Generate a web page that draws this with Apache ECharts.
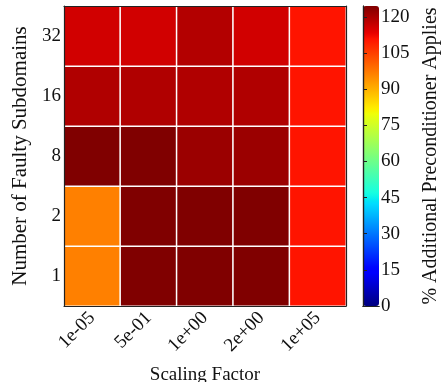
<!DOCTYPE html>
<html>
<head>
<meta charset="utf-8">
<script src="https://cdn.jsdelivr.net/npm/echarts@6/dist/echarts.min.js"></script>
<style>
html,body{margin:0;padding:0;background:#fff;}
#chart{width:442px;height:382px;}
</style>
</head>
<body>
<div id="chart"></div>
<script>
// ---- data ----
const xLabels = ['1e-05', '5e-01', '1e+00', '2e+00', '1e+05'];
const yLabels = ['1', '2', '8', '16', '32'];
const row1  = [96.5, 124.5, 124.5, 124.5, 110.7];
const row2  = [96.5, 124.5, 124.5, 124.5, 110.7];
const row8  = [124.5, 124.5, 121.5, 121.5, 110.7];
const row16 = [119.3, 119.3, 119.3, 119.3, 110.7];
const row32 = [115.8, 115.8, 119.0, 115.8, 110.7];
const colorMin = 0;
const colorMax = 124.5;
const cbTicks = [0, 15, 30, 45, 60, 75, 90, 105, 120];

const rows = [row1, row2, row8, row16, row32];
const heatData = [];
rows.forEach((r, yi) => r.forEach((v, xi) => heatData.push([xi, yi, v])));

// jet colormap
function interp(pts, t) {
  for (let i = 0; i < pts.length - 1; i++) {
    const [t0, v0] = pts[i], [t1, v1] = pts[i + 1];
    if (t >= t0 && t <= t1) return v0 + (v1 - v0) * (t - t0) / (t1 - t0);
  }
  return pts[pts.length - 1][1];
}
const R = [[0,0],[0.35,0],[0.66,1],[0.89,1],[1,0.5]];
const G = [[0,0],[0.125,0],[0.375,1],[0.64,1],[0.91,0],[1,0]];
const B = [[0,0.5],[0.11,1],[0.34,1],[0.65,0],[1,0]];
const jet = [];
const N = 200;
for (let i = 0; i <= N; i++) {
  const t = i / N;
  const c = [R, G, B].map(p => Math.round(255 * interp(p, t)));
  jet.push('rgb(' + c.join(',') + ')');
}

const FONT = 'Liberation Serif';
const TXT = '#111';
const FS = 19;

const chart = echarts.init(document.getElementById('chart'));
chart.setOption({
  animation: false,
  backgroundColor: '#fff',
  grid: [
    { left: 64, top: 6, width: 282, height: 300, containLabel: false, outerBoundsMode: 'none' },
    { left: 363, top: 6, width: 16, height: 300, containLabel: false, outerBoundsMode: 'none' }
  ],
  xAxis: [
    {
      type: 'category', data: xLabels, gridIndex: 0, position: 'bottom', z: 10,
      name: 'Scaling Factor', nameLocation: 'middle', nameGap: 60,
      nameTextStyle: { fontFamily: FONT, fontSize: FS, color: TXT },
      axisLine: { lineStyle: { color: '#222', width: 1.2 } },
      axisTick: { alignWithLabel: true, length: 6, lineStyle: { color: '#222' } },
      axisLabel: { rotate: 45, margin: 9, fontFamily: FONT, fontSize: FS, color: TXT },
      splitLine: { show: false }
    },
    {
      type: 'category', data: xLabels, gridIndex: 0, position: 'top', z: 10,
      axisLine: { lineStyle: { color: '#222', width: 1.2 } },
      axisTick: { alignWithLabel: true, inside: true, length: 6, lineStyle: { color: '#222' } },
      axisLabel: { show: false }
    },
    {
      type: 'value', gridIndex: 1, min: 0, max: 1, position: 'bottom', z: 10,
      axisLine: { lineStyle: { color: '#222', width: 1.2 } },
      axisTick: { show: false }, axisLabel: { show: false }, splitLine: { show: false }
    },
    {
      type: 'value', gridIndex: 1, min: 0, max: 1, position: 'top', z: 10,
      axisLine: { lineStyle: { color: '#222', width: 1.2 } },
      axisTick: { show: false }, axisLabel: { show: false }, splitLine: { show: false }
    }
  ],
  yAxis: [
    {
      type: 'category', data: yLabels, gridIndex: 0, position: 'left', z: 10,
      name: 'Number of Faulty Subdomains', nameLocation: 'middle', nameGap: 29,
      nameTextStyle: { fontFamily: FONT, fontSize: 21, color: TXT },
      axisLine: { lineStyle: { color: '#222', width: 1.2 } },
      axisTick: { alignWithLabel: true, length: 6, lineStyle: { color: '#222' } },
      axisLabel: { margin: 3, fontFamily: FONT, fontSize: FS, color: TXT },
      splitLine: { show: false }
    },
    {
      type: 'category', data: yLabels, gridIndex: 0, position: 'right', z: 10,
      axisLine: { lineStyle: { color: '#222', width: 1.2 } },
      axisTick: { alignWithLabel: true, inside: true, length: 6, lineStyle: { color: '#222' } },
      axisLabel: { show: false }
    },
    {
      type: 'value', gridIndex: 1, min: colorMin, max: colorMax, position: 'right', z: 10,
      name: '% Additional Preconditioner Applies', nameLocation: 'middle', nameGap: 42, nameRotate: 90,
      nameTextStyle: { fontFamily: FONT, fontSize: 20, color: TXT },
      axisLine: { show: true, lineStyle: { color: '#222', width: 1.2 } },
      axisTick: { show: true, length: 4, customValues: cbTicks, lineStyle: { color: '#222' } },
      axisLabel: { margin: 2, customValues: cbTicks, fontFamily: FONT, fontSize: FS, color: TXT },
      splitLine: { show: false }
    },
    {
      type: 'value', gridIndex: 1, min: colorMin, max: colorMax, position: 'left', z: 10,
      axisLine: { show: true, lineStyle: { color: '#222', width: 1.2 } },
      axisTick: { show: false }, axisLabel: { show: false }, splitLine: { show: false }
    }
  ],
  visualMap: {
    type: 'continuous', min: colorMin, max: colorMax, seriesIndex: 0, dimension: 2,
    orient: 'vertical', left: 363, top: 6, itemWidth: 16, itemHeight: 300, padding: 0,
    calculable: false, realtime: false, text: null, showLabel: false, hoverLink: false,
    inRange: { color: jet }
  },
  series: [{
    type: 'heatmap', xAxisIndex: 0, yAxisIndex: 0, data: heatData,
    itemStyle: { borderColor: '#fff', borderWidth: 1.5 },
    emphasis: { disabled: true }
  }]
});
</script>
</body>
</html>
